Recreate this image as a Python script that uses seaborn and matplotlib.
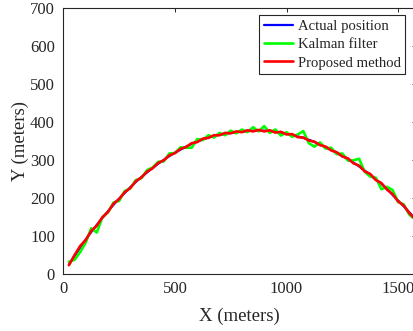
import matplotlib
matplotlib.use("Agg")
import matplotlib.pyplot as plt
import seaborn as sns
import pandas as pd

x_m = [25, 50, 75, 100, 125, 150, 175, 200, 225, 250, 275, 300, 325, 350, 375, 400,
       425, 450, 475, 500, 525, 550, 575, 600, 625, 650, 675, 700, 725, 750, 775, 800,
       825, 850, 875, 900, 925, 950, 975, 1000, 1025, 1050, 1075, 1100, 1125, 1150,
       1175, 1200, 1225, 1250, 1275, 1300, 1325, 1350, 1375, 1400, 1425, 1450, 1475,
       1500, 1525, 1550, 1575]

actual_y = [25, 48, 70, 91, 111, 130, 148, 166, 183, 199, 214, 229, 243, 256, 268, 280,
            291, 301, 311, 320, 328, 336, 343, 349, 355, 360, 364, 367, 370, 372, 374, 376,
            377, 378, 378, 378, 377, 375, 373, 370, 367, 363, 359, 354, 348, 342,
            335, 328, 320, 312, 303, 294, 284, 273, 262, 250, 238, 225, 209,
            194, 179, 163, 147]

kalman_y = [33, 38, 58, 83, 121, 110, 150, 163, 189, 193, 219, 226, 248, 253, 274, 281,
            296, 297, 318, 319, 334, 333, 333, 356, 353, 366, 360, 372, 366, 378, 371, 381,
            374, 387, 376, 390, 372, 381, 365, 374, 362, 368, 377, 345, 336, 347,
            331, 333, 316, 318, 299, 300, 304, 270, 257, 254, 224, 230, 222,
            190, 184, 157, 145]

proposed_y = [24, 50, 74, 90, 114, 128, 150, 164, 186, 198, 216, 227, 245, 255, 270, 279,
              293, 300, 313, 319, 330, 335, 345, 348, 357, 359, 366, 366, 372, 371, 376, 374,
              379, 376, 380, 376, 379, 373, 375, 368, 369, 361, 360, 352, 349, 340,
              336, 326, 321, 310, 305, 292, 286, 271, 264, 248, 240, 223, 211,
              192, 181, 161, 146]

series_names = ["Actual position", "Kalman filter", "Proposed method"]
x_ticks = [0, 500, 1000, 1500]
y_ticks = [0, 100, 200, 300, 400, 500, 600, 700]

sns.set_style("white")
plt.rcParams["font.family"] = ["Liberation Serif", "DejaVu Serif"]

df = pd.concat([
    pd.DataFrame({"x": x_m, "y": actual_y, "series": series_names[0]}),
    pd.DataFrame({"x": x_m, "y": kalman_y, "series": series_names[1]}),
    pd.DataFrame({"x": x_m, "y": proposed_y, "series": series_names[2]}),
], ignore_index=True)

fig = plt.figure(figsize=(4.14, 3.31), dpi=100)
ax = fig.add_axes([63.3 / 414, 1 - 274.3 / 331, (416 - 63.3) / 414, (274.3 - 8.3) / 331])

palette = {series_names[0]: "#0000ff", series_names[1]: "#00ff00", series_names[2]: "#ff0000"}
sizes = {series_names[0]: 1.6, series_names[1]: 1.9, series_names[2]: 1.9}
for name in series_names:
    sub = df[df["series"] == name]
    sns.lineplot(data=sub, x="x", y="y", ax=ax, color=palette[name], linewidth=sizes[name],
                 sort=False, estimator=None, label=name)

ax.set_xlim(0, 1580)
ax.set_ylim(0, 700)
ax.set_xticks(x_ticks)
ax.set_yticks(y_ticks)
ax.tick_params(direction="in", length=3, width=0.7, top=True, right=True,
               labelsize=12, colors="#262626", pad=5)
ax.tick_params(axis="y", pad=6)
for s in ax.spines.values():
    s.set_color("#262626")
    s.set_linewidth(0.8)
    s.set_visible(True)

ax.set_xlabel("X (meters)", fontsize=13.5, color="#262626")
ax.set_ylabel("Y (meters)", fontsize=13.5, color="#262626")
ax.xaxis.set_label_coords(0.5, -(316 - 274.3) / 266, transform=ax.transAxes)
ax.yaxis.set_label_coords(-(63.3 - 20) / 352.7, 0.5, transform=ax.transAxes)
ax.xaxis.label.set_va("center")
ax.yaxis.label.set_va("center")

leg = ax.legend(loc="upper right", bbox_to_anchor=(405 / 414, 1 - 15 / 331),
                bbox_transform=fig.transFigure, borderaxespad=0, fontsize=10.6,
                handlelength=2.0, handletextpad=0.3, labelspacing=0.35,
                borderpad=0.3, fancybox=False, framealpha=1, edgecolor="#262626")
leg.get_frame().set_linewidth(0.8)

fig.savefig("out.png", dpi=100)
